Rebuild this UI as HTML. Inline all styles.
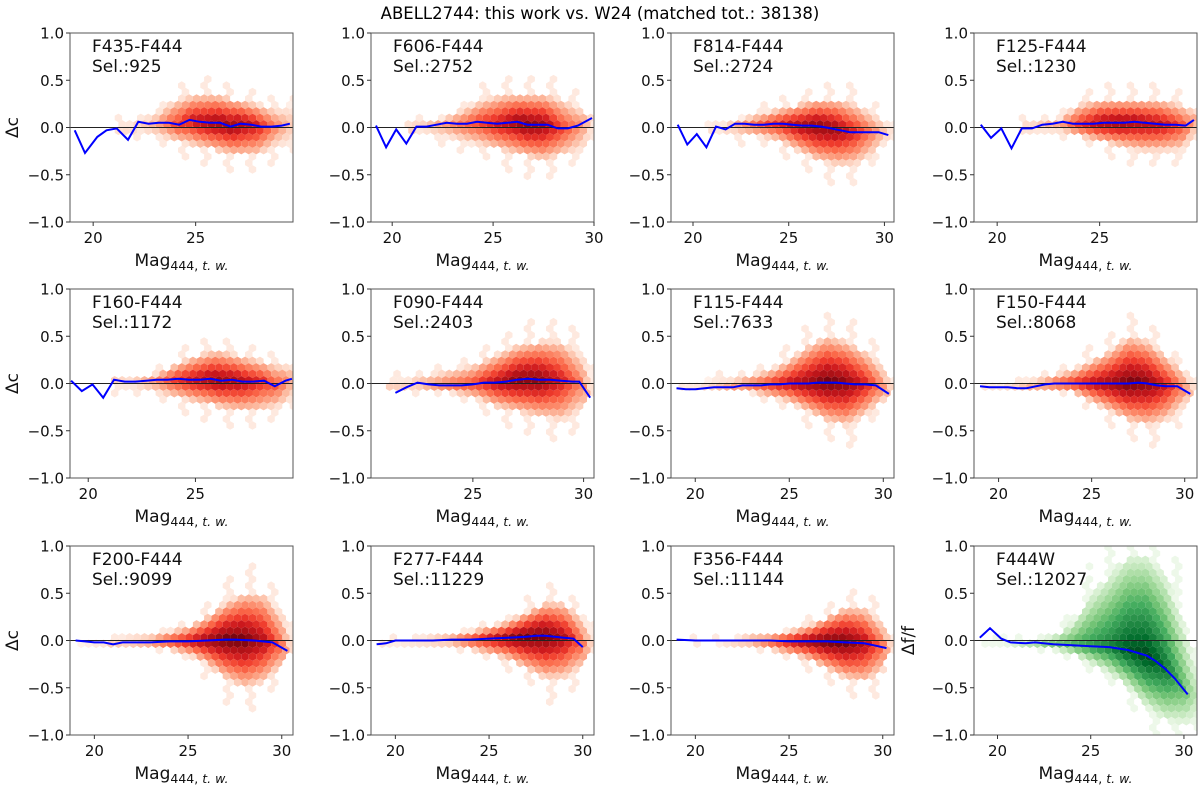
<!DOCTYPE html>
<html><head><meta charset="utf-8">
<style>
body{margin:0;background:#fff;}
svg{display:block;font-family:"DejaVu Sans","Liberation Sans",sans-serif;}
</style></head>
<body>
<svg id="fig" width="1200" height="786" viewBox="0 0 1200 786">
<text x="600" y="19" text-anchor="middle" font-size="16.5">ABELL2744: this work vs. W24 (matched tot.: 38138)</text>
</svg>
<script>
// ---- data ----
const panelLabels = ["F435-F444","F606-F444","F814-F444","F125-F444","F160-F444","F090-F444","F115-F444","F150-F444","F200-F444","F277-F444","F356-F444","F444W"];
const panelSel = [925,2752,2724,1230,1172,2403,7633,8068,9099,11229,11144,12027];
const xRanges = [[18.87,29.75],[18.95,30.0],[18.85,30.5],[18.87,29.75],[19.15,29.55],[20.4,30.47],[18.71,30.57],[18.68,30.66],[18.7,30.6],[18.7,30.6],[18.7,30.6],[18.74,30.7]];
const xTicks = [[20,25],[20,25,30],[20,25,30],[20,25],[20,25],[25,30],[20,25,30],[20,25,30],[20,25,30],[20,25,30],[20,25,30],[20,25,30]];
const yTicks = [-1.0,-0.5,0.0,0.5,1.0];
const yTickLabels = ["\u22121.0","\u22120.5","0.0","0.5","1.0"];
// median lines
const lineX = [
 [19.1,19.6,20.2,20.65,21.15,21.7,22.2,22.7,23.2,23.7,24.2,24.7,25.2,25.7,26.2,26.7,27.2,27.7,28.2,28.7,29.2,29.6],
 [19.2,19.7,20.2,20.7,21.2,21.7,22.2,22.7,23.2,23.7,24.2,24.7,25.2,25.7,26.2,26.7,27.2,27.7,28.2,28.7,29.2,29.9],
 [19.2,19.7,20.2,20.7,21.2,21.7,22.2,22.7,23.2,23.7,24.2,24.7,25.2,25.7,26.2,26.7,27.2,27.7,28.2,28.7,29.2,29.7,30.2],
 [19.2,19.7,20.2,20.7,21.2,21.7,22.2,22.7,23.2,23.7,24.2,24.7,25.2,25.7,26.2,26.7,27.2,27.7,28.2,28.7,29.2,29.6],
 [19.2,19.7,20.2,20.7,21.2,21.7,22.2,22.7,23.2,23.7,24.2,24.7,25.2,25.7,26.2,26.7,27.2,27.7,28.2,28.7,29.2,29.5],
 [21.5,22.0,22.5,23.0,23.5,24.0,24.5,25.0,25.5,26.0,26.5,27.0,27.5,28.0,28.5,29.0,29.5,29.8,30.3],
 [19.0,19.5,20.0,20.5,21.0,21.5,22.0,22.5,23.0,23.5,24.0,24.5,25.0,25.5,26.0,26.5,27.0,27.5,28.0,28.5,29.0,29.6,30.3],
 [19.0,19.5,20.0,20.5,21.0,21.5,22.0,22.5,23.0,24.0,25.0,26.0,27.0,27.5,28.0,28.5,29.0,29.6,30.3],
 [19.0,19.5,20.0,20.5,21.0,21.5,22.0,23.0,24.0,25.0,26.0,27.0,27.5,28.5,29.5,30.3],
 [19.0,19.5,20.0,21.0,22.0,23.0,24.0,25.0,26.0,27.0,27.5,28.0,28.5,29.0,29.5,30.0],
 [19.0,20.0,21.0,22.0,23.0,24.0,25.0,26.0,27.0,28.0,29.0,29.5,30.2],
 [19.05,19.6,20.2,20.7,21.5,22.0,23.0,24.0,25.0,26.0,27.0,28.0,28.5,29.0,29.5,30.2]
];
const lineY = [
 [-0.03,-0.27,-0.10,-0.03,-0.01,-0.13,0.06,0.04,0.05,0.05,0.03,0.08,0.06,0.05,0.05,0.01,0.04,0.03,0.01,0.01,0.02,0.04],
 [0.02,-0.21,-0.02,-0.17,0.01,0.01,0.03,0.05,0.04,0.04,0.06,0.05,0.04,0.05,0.06,0.03,0.03,0.03,-0.01,-0.01,0.02,0.10],
 [0.03,-0.18,-0.07,-0.21,0.01,-0.02,0.04,0.04,0.03,0.03,0.04,0.04,0.03,0.02,0.02,0.01,-0.01,-0.03,-0.05,-0.05,-0.05,-0.05,-0.08],
 [0.03,-0.11,-0.01,-0.22,-0.01,-0.01,0.03,0.04,0.06,0.04,0.04,0.04,0.05,0.05,0.05,0.06,0.05,0.04,0.03,0.03,0.02,0.08],
 [0.03,-0.08,-0.01,-0.15,0.04,0.02,0.02,0.03,0.04,0.04,0.05,0.04,0.04,0.05,0.03,0.04,0.02,0.02,0.03,-0.03,0.03,0.05],
 [-0.10,-0.04,0.01,-0.01,-0.02,-0.02,-0.02,-0.01,0.01,0.01,0.02,0.04,0.05,0.04,0.04,0.03,0.02,0.02,-0.15],
 [-0.05,-0.06,-0.06,-0.05,-0.04,-0.04,-0.04,-0.02,-0.02,-0.02,-0.01,-0.01,0.0,0.0,0.0,0.01,0.01,0.01,0.0,-0.01,-0.01,-0.02,-0.11],
 [-0.03,-0.04,-0.04,-0.04,-0.05,-0.05,-0.03,-0.01,0.0,0.0,0.0,0.0,0.0,0.01,0.0,-0.02,-0.03,-0.03,-0.11],
 [0.0,-0.01,-0.02,-0.02,-0.04,-0.02,-0.02,-0.02,-0.01,-0.01,0.0,0.01,0.01,0.0,-0.02,-0.11],
 [-0.04,-0.03,0.0,0.0,0.0,0.01,0.01,0.02,0.03,0.04,0.05,0.05,0.04,0.03,0.02,-0.07],
 [0.01,0.0,0.0,0.0,0.0,0.0,-0.01,-0.01,-0.01,-0.02,-0.03,-0.05,-0.08],
 [0.03,0.13,0.02,-0.02,-0.03,-0.02,-0.04,-0.05,-0.06,-0.07,-0.10,-0.16,-0.22,-0.30,-0.40,-0.57]
];
// hexbin cloud envelopes (per magnitude bin): upper extent, lower extent, peak density
const cloudMag = [
 [22,23,24,25,26,27,28,29,29.7],
 [21.5,22.5,23.5,24.5,25.5,26.5,27.5,28.5,29.5,30],
 [21.5,22.5,23.5,24.5,25.5,26.5,27.5,28.5,29.5,30.3],
 [22,23,24,25,26,27,28,29,29.7],
 [22,23,24,25,26,27,28,29,29.5],
 [22,23,24,25,26,27,28,29,30,30.4],
 [20,21,22,23,24,25,26,27,28,29,30,30.5],
 [20,21,22,23,24,25,26,27,28,29,30,30.5],
 [20,21,22,23,24,25,26,27,28,29,30,30.5],
 [20,21,22,23,24,25,26,27,28,29,30,30.5],
 [20,21,22,23,24,25,26,27,28,29,30,30.5],
 [20,21,22,23,24,25,26,27,28,29,30,30.6]
];
const cloudHi = [
 [0.1,0.15,0.3,0.35,0.35,0.3,0.25,0.2,0.25],
 [0.1,0.1,0.2,0.3,0.35,0.35,0.35,0.3,0.2,0.1],
 [0.05,0.1,0.15,0.2,0.25,0.3,0.3,0.25,0.15,0.05],
 [0.1,0.1,0.25,0.3,0.3,0.3,0.3,0.25,0.2],
 [0.05,0.1,0.2,0.3,0.35,0.3,0.25,0.2,0.2],
 [0.05,0.1,0.15,0.2,0.3,0.4,0.45,0.45,0.3,0.1],
 [0.0,0.05,0.05,0.1,0.15,0.25,0.4,0.5,0.45,0.35,0.2,0.05],
 [0.0,0.03,0.05,0.1,0.15,0.25,0.35,0.5,0.45,0.3,0.15,0.05],
 [0.0,0.03,0.05,0.05,0.1,0.15,0.25,0.4,0.5,0.5,0.3,0.1],
 [0.0,0.03,0.05,0.05,0.1,0.15,0.2,0.3,0.4,0.4,0.25,0.1],
 [0.0,0.03,0.03,0.05,0.05,0.1,0.15,0.25,0.35,0.35,0.2,0.05],
 [0.0,0.02,0.03,0.05,0.2,0.5,0.7,0.9,0.9,0.7,0.2,-0.2]
];
const cloudLo = [
 [-0.05,-0.1,-0.15,-0.2,-0.25,-0.3,-0.3,-0.2,-0.2],
 [-0.05,-0.1,-0.15,-0.2,-0.25,-0.3,-0.35,-0.3,-0.25,-0.1],
 [-0.05,-0.1,-0.1,-0.15,-0.25,-0.35,-0.4,-0.4,-0.3,-0.1],
 [-0.05,-0.05,-0.1,-0.15,-0.2,-0.25,-0.25,-0.25,-0.1],
 [-0.05,-0.1,-0.15,-0.2,-0.25,-0.3,-0.3,-0.25,-0.2],
 [-0.05,-0.1,-0.1,-0.15,-0.25,-0.3,-0.35,-0.4,-0.3,-0.1],
 [-0.05,-0.05,-0.05,-0.1,-0.15,-0.2,-0.3,-0.4,-0.45,-0.35,-0.2,-0.05],
 [-0.05,-0.05,-0.05,-0.1,-0.1,-0.2,-0.3,-0.4,-0.45,-0.4,-0.25,-0.05],
 [-0.03,-0.05,-0.05,-0.05,-0.1,-0.15,-0.25,-0.4,-0.5,-0.45,-0.3,-0.1],
 [-0.05,-0.05,-0.05,-0.05,-0.1,-0.15,-0.2,-0.3,-0.4,-0.4,-0.3,-0.1],
 [-0.03,-0.03,-0.05,-0.05,-0.1,-0.15,-0.2,-0.3,-0.4,-0.45,-0.35,-0.1],
 [-0.05,-0.05,-0.07,-0.1,-0.15,-0.25,-0.35,-0.5,-0.7,-0.85,-0.9,-0.9]
];
const cloudDens = [
 [0.15,0.3,0.6,0.8,0.9,0.9,0.75,0.4,0.2],
 [0.2,0.35,0.5,0.65,0.8,0.95,0.9,0.6,0.35,0.1],
 [0.15,0.35,0.55,0.7,0.85,0.95,0.9,0.7,0.4,0.15],
 [0.2,0.35,0.65,0.85,0.9,0.85,0.8,0.6,0.3],
 [0.2,0.35,0.65,0.8,0.9,0.85,0.7,0.5,0.3],
 [0.2,0.35,0.5,0.6,0.8,0.95,0.95,0.75,0.4,0.1],
 [0.1,0.2,0.35,0.5,0.65,0.8,0.9,1,0.95,0.75,0.4,0.15],
 [0.1,0.2,0.35,0.5,0.65,0.8,0.9,1,0.95,0.75,0.4,0.15],
 [0.1,0.2,0.3,0.45,0.6,0.75,0.9,1,1,0.85,0.5,0.15],
 [0.1,0.2,0.3,0.45,0.6,0.75,0.9,1,1,0.85,0.5,0.15],
 [0.1,0.2,0.3,0.45,0.6,0.75,0.9,1,1,0.85,0.5,0.15],
 [0.1,0.25,0.4,0.5,0.6,0.7,0.8,0.95,1,0.85,0.55,0.3]
];

// ---- layout ----
const colLeft = [70,371,671,974], rowTop = [33,289,546], PW = 223, PH = 189;
const reds = ['#fff5f0','#fee0d2','#fcbba1','#fc9272','#fb6a4a','#ef3b2c','#cb181d','#a50f15','#67000d'];
const greens = ['#f7fcf5','#e5f5e0','#c7e9c0','#a1d99b','#74c476','#41ab5d','#238b45','#006d2c','#00441b'];
const NS = 'http://www.w3.org/2000/svg';
const svg = document.getElementById('fig');

function mk(tag, attrs, parent){ const e=document.createElementNS(NS,tag); for(const k in attrs) e.setAttribute(k,attrs[k]); parent.appendChild(e); return e; }
function interp(xs, ys, x){
  if(x<=xs[0]) return ys[0];
  if(x>=xs[xs.length-1]) return ys[ys.length-1];
  for(let i=1;i<xs.length;i++){ if(x<=xs[i]){ const f=(x-xs[i-1])/(xs[i]-xs[i-1]); return ys[i-1]+f*(ys[i]-ys[i-1]); } }
}
function hexColor(cmap, t){
  t=Math.max(0,Math.min(1,t)); const p=t*(cmap.length-1); const i=Math.min(cmap.length-2,Math.floor(p)); const f=p-i;
  const a=cmap[i], b=cmap[i+1];
  const c=[1,3,5].map(k=>Math.round(parseInt(a.substr(k,2),16)*(1-f)+parseInt(b.substr(k,2),16)*f));
  return 'rgb('+c.join(',')+')';
}

for(let p=0;p<12;p++){
  const col=p%4, row=Math.floor(p/4);
  const L=colLeft[col], T=rowTop[row];
  const [x0,x1]=xRanges[p];
  const xs = v => L + (v-x0)/(x1-x0)*PW;
  const ys = v => T + (1-v)/2*PH;
  const g = mk('g',{},svg);
  
  
  const clipId='clip'+p;
  const cp=mk('clipPath',{id:clipId},g); mk('rect',{x:L,y:T,width:PW,height:PH},cp);

  // hexbin cells
  const cmap = p===11 ? greens : reds;
  const hg = mk('g',{'clip-path':'url(#'+clipId+')'},g);
  
  
  const r=4.3, w=Math.sqrt(3)*r, dy=1.5*r;
  const cm=cloudMag[p];
  let ri=0;
  for(let py=T+1; py<T+PH; py+=dy, ri++){
    let ci=0;
    for(let px=L+(ri%2? w/2:0); px<L+PW+w; px+=w, ci++){
      const m = x0 + (px-L)/PW*(x1-x0);
      if(m < cm[0]-0.8 || m > cm[cm.length-1]+0.3) continue;
      const v = 1 - (py-T)/PH*2;
      const hi=interp(cm,cloudHi[p],m), lo=interp(cm,cloudLo[p],m), dn=interp(cm,cloudDens[p],m);
      const c=Math.max(lo,Math.min(hi,interp(lineX[p],lineY[p],m)));
      let d = v>=c ? (v-c)/Math.max(0.03,hi-c) : (c-v)/Math.max(0.03,c-lo);
      let t;
      if(d>1){
        if(d>1.6 || (ri*3+ci)%3!==0) continue;
        t = 0.07;
      } else {
        t = dn*(0.12+0.88*Math.pow(1-d,0.8));
      }
      let pts=[]; for(let k=0;k<6;k++){ const a=Math.PI/3*k+Math.PI/6; pts.push((px+r*Math.cos(a)).toFixed(1)+','+(py+r*Math.sin(a)).toFixed(1)); }
      const h=mk('polygon',{points:pts.join(' '),fill:hexColor(cmap,t)},hg);
      
      
    }
  }
  // zero line
  const zl=mk('line',{x1:L,x2:L+PW,y1:ys(0),y2:ys(0),stroke:'#222','stroke-width':1.1},g);
  
  
  // median line
  const d=lineX[p].map((x,i)=>(i?'L':'M')+xs(x).toFixed(1)+','+ys(lineY[p][i]).toFixed(1)).join(' ');
  const ml=mk('path',{d:d,fill:'none',stroke:'#0000ff','stroke-width':2,'clip-path':'url(#'+clipId+')'},g);
  
  
  // frame
  const fr=mk('rect',{x:L,y:T,width:PW,height:PH,fill:'none',stroke:'#555','stroke-width':1},g);
  
  
  // y ticks
  yTicks.forEach((v,i)=>{
    mk('line',{x1:L-4,x2:L,y1:ys(v),y2:ys(v),stroke:'#333'},g);
    const t=mk('text',{x:L-6,y:ys(v)+5.5,'text-anchor':'end','font-size':15,fill:'#111'},g);
    t.textContent=yTickLabels[i];
    
    
  });
  // x ticks
  xTicks[p].forEach(v=>{
    mk('line',{x1:xs(v),x2:xs(v),y1:T+PH,y2:T+PH+4,stroke:'#333'},g);
    const t=mk('text',{x:xs(v),y:T+PH+21,'text-anchor':'middle','font-size':15,fill:'#111'},g);
    t.textContent=String(v);
    
    
  });
  // x label
  const xl=mk('text',{x:L+PW/2,y:T+PH+44,'text-anchor':'middle','font-size':17,fill:'#111'},g);
  
  
  xl.appendChild(document.createTextNode('Mag'));
  const sub=mk('tspan',{'font-size':12.5,dy:4},xl); sub.textContent='444,';
  const sub2=mk('tspan',{'font-size':12.5,'font-style':'italic'},xl); sub2.textContent=' t. w.';
  // y label
  if(col===0 || p===11){
    const yx = col===0 ? 18 : 914;
    const yl=mk('text',{x:yx,y:T+PH/2,'text-anchor':'middle','font-size':17,fill:'#111',transform:'rotate(-90 '+yx+' '+(T+PH/2)+')'},g);
    yl.textContent = p===11 ? '\u0394f/f' : '\u0394c';
    
    
  }
  // panel annotations
  const a1=mk('text',{x:L+22,y:T+19,'font-size':17,fill:'#111'},g);
  a1.textContent=panelLabels[p];
  
  
  const a2=mk('text',{x:L+22,y:T+39,'font-size':17,fill:'#111'},g);
  a2.textContent='Sel.:'+panelSel[p];
  
  
}
</script>
</body></html>
